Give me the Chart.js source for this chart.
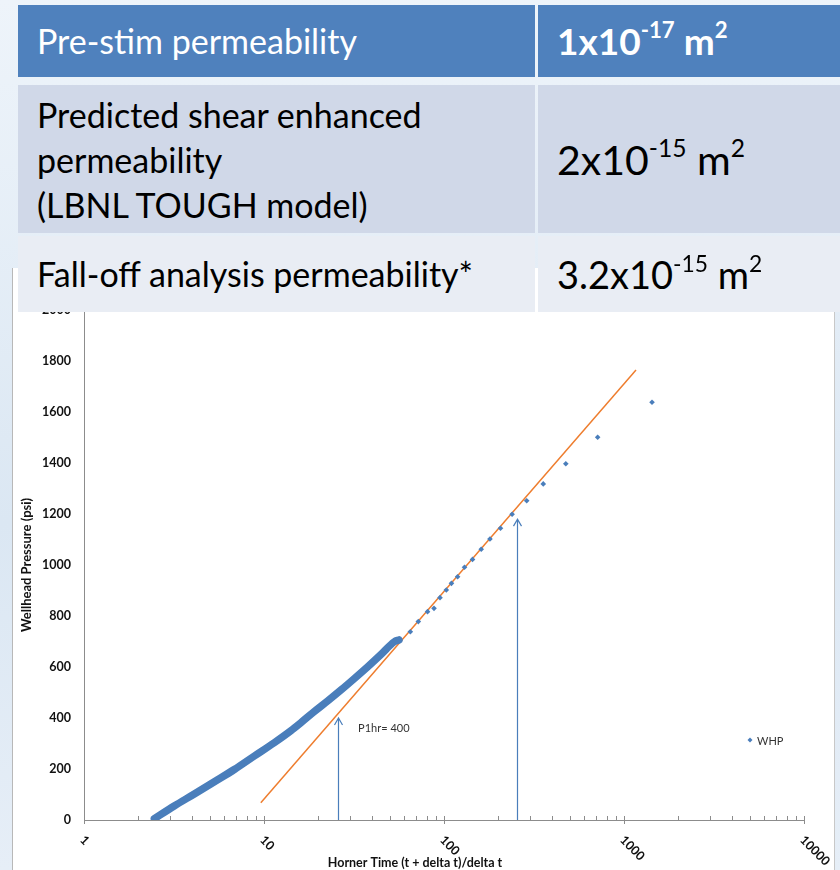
<!DOCTYPE html>
<html>
<head>
<meta charset="utf-8">
<script src="https://cdn.jsdelivr.net/npm/chart.js@4.4.1/dist/chart.umd.min.js"></script>
<style>
  body { margin: 0; width: 840px; height: 870px; overflow: hidden; position: relative;
         background: linear-gradient(180deg, #eef4fa 0%, #dbe7f3 60%, #e6eef7 100%); font-family: Lato, sans-serif; }
  #sheet { position: absolute; left: 12px; top: 268px; width: 821px; height: 602px; background: #fff;
           border-left: 1px solid #b8b8b8; border-right: 1px solid #c8c8c8; }
  #chart { position: absolute; left: 0; top: 2px; }
  .cell { position: absolute; box-sizing: border-box; white-space: nowrap; }
  .l { left: 18px; width: 517px; padding-left: 19px; font-size: 34px; }
  .r { left: 538px; width: 302px; padding-left: 19px; }
  .h { top: 5px; height: 72px; background: #4f81bd; color: #fff; line-height: 72px; }
  .m { top: 85px; height: 148px; background: #d0d8e8; color: #000; }
  .b { top: 236px; height: 76px; background: #e9edf4; color: #000; line-height: 76px; }
  sup { font-size: 0.6em; vertical-align: 0; position: relative; top: -0.75em; }
</style>
</head>
<body>
<div id="sheet"><canvas id="chart" width="820" height="600"></canvas></div>

<div class="cell l h">Pre-stim permeability</div>
<div class="cell r h" style="font-weight:bold;font-size:37px">1x10<sup>-17</sup> m<sup>2</sup></div>
<div class="cell l m" style="line-height:45px;padding-top:7px">Predicted shear enhanced<br>permeability<br>(LBNL TOUGH model)</div>
<div class="cell r m" style="font-size:41px;line-height:150px">2x10<sup>-15</sup> m<sup>2</sup></div>
<div class="cell l b">Fall-off analysis permeability*</div>
<div class="cell r b" style="font-size:38px">3.2x10<sup>-15</sup> m<sup>2</sup></div>

<script>
// early build-up, drawn as a thick band of overlapping markers
const whpDenseX = [2.46, 3.17, 4.10, 5.30, 6.84, 8.84, 11.4, 14.1, 16.0, 19.0, 22.6, 26.8, 31.8, 37.7, 44.8, 53, 56.2];
const whpDenseP = [5, 55, 102, 150, 198, 251, 303, 350, 381, 425, 467, 510, 555, 601, 650, 699, 706];
// later readings, single markers
const whpX = [65, 72, 81, 88, 95, 103, 110, 119, 130, 144, 161, 180, 206, 239, 288, 356, 475, 714, 1431];
const whpP = [738, 778, 817, 830, 872, 902, 928, 954, 991, 1022, 1062, 1102, 1144, 1199, 1252, 1318, 1397, 1501, 1638];
// straight-line fit
const fitX = [9.6, 1166];
const fitP = [68, 1765];
// vertical arrows
const arrowX = [25.8, 253];
const arrowP = [400, 1180];
const arrowLabel = 'P1hr= 400';
const xTickLabels = ['1', '10', '100', '1000', '10000'];
const yMin = 0, yMax = 2000, yStep = 200;

const blue = '#4a7ebb';
const orange = '#ee7d2e';
const axisGrey = '#8c8c8c';
const labelFont = 'bold 12.5px Lato';

const toPts = (xs, ys) => xs.map((x, i) => ({ x: x, y: ys[i] }));

const extras = {
  id: 'extras',
  afterDatasetsDraw(chart) {
    const ctx = chart.ctx;
    const xs = chart.scales.x, ys = chart.scales.y;
    ctx.save();
    // arrows
    ctx.strokeStyle = blue;
    ctx.lineWidth = 1.2;
    arrowX.forEach((v, i) => {
      const px = Math.round(xs.getPixelForValue(v)) + 0.5;
      const y0 = ys.getPixelForValue(0);
      const y1 = ys.getPixelForValue(arrowP[i]);
      ctx.beginPath();
      ctx.moveTo(px, y0);
      ctx.lineTo(px, y1);
      ctx.moveTo(px - 4, y1 + 7);
      ctx.lineTo(px, y1);
      ctx.lineTo(px + 4, y1 + 7);
      ctx.stroke();
    });
    ctx.fillStyle = '#333';
    ctx.font = '11px Lato';
    ctx.textBaseline = 'middle';
    ctx.textAlign = 'left';
    ctx.fillText(arrowLabel, xs.getPixelForValue(arrowX[0]) + 20, ys.getPixelForValue(arrowP[0]) + 10);

    // legend
    const lx = chart.chartArea.right - 54, ly = chart.chartArea.bottom - 80;
    ctx.fillStyle = blue;
    ctx.beginPath();
    ctx.moveTo(lx, ly - 2.5); ctx.lineTo(lx + 2.5, ly); ctx.lineTo(lx, ly + 2.5); ctx.lineTo(lx - 2.5, ly);
    ctx.closePath();
    ctx.fill();
    ctx.fillStyle = '#333';
    ctx.fillText('WHP', lx + 7, ly + 1);
    ctx.restore();
  },
  afterDraw(chart) {
    const ctx = chart.ctx;
    const xs = chart.scales.x;
    const yb = chart.chartArea.bottom;
    ctx.save();
    ctx.strokeStyle = axisGrey;
    ctx.lineWidth = 1;
    // major + minor ticks on the log axis
    for (let d = 0; d < xTickLabels.length; d++) {
      const base = Math.pow(10, d);
      const mx = Math.round(xs.getPixelForValue(base)) + 0.5;
      ctx.beginPath(); ctx.moveTo(mx, yb - 4); ctx.lineTo(mx, yb + 4); ctx.stroke();
      if (d === xTickLabels.length - 1) break;
      for (let m = 2; m < 10; m++) {
        const px = Math.round(xs.getPixelForValue(base * m)) + 0.5;
        ctx.beginPath(); ctx.moveTo(px, yb - 4); ctx.lineTo(px, yb); ctx.stroke();
      }
    }
    // rotated tick labels
    ctx.fillStyle = '#111';
    ctx.font = labelFont;
    ctx.textAlign = 'left';
    ctx.textBaseline = 'middle';
    xTickLabels.forEach((t, d) => {
      const px = xs.getPixelForValue(Math.pow(10, d));
      ctx.save();
      ctx.translate(px - 2, yb + 18);
      ctx.rotate(Math.PI / 4);
      ctx.fillText(t, 0, 0);
      ctx.restore();
    });
    // x title
    ctx.textAlign = 'center';
    ctx.fillText('Horner Time (t + delta t)/delta t', 402, yb + 43);
    ctx.restore();
  }
};

new Chart(document.getElementById('chart'), {
  type: 'scatter',
  data: {
    datasets: [
      {
        label: 'WHP',
        data: toPts(whpDenseX, whpDenseP),
        showLine: true,
        cubicInterpolationMode: 'monotone',
        borderColor: blue,
        borderWidth: 7.5,
        borderCapStyle: 'round',
        pointRadius: 0
      },
      {
        label: 'WHP',
        data: toPts(whpX, whpP),
        pointStyle: 'rectRot',
        pointRadius: 2.8,
        backgroundColor: blue,
        borderWidth: 0
      },
      {
        label: 'fit',
        data: toPts(fitX, fitP),
        showLine: true,
        borderColor: orange,
        borderWidth: 1.5,
        pointRadius: 0
      }
    ]
  },
  options: {
    responsive: false,
    animation: false,
    devicePixelRatio: 1,
    layout: { padding: { top: 40, right: 29, left: 0, bottom: 0 } },
    plugins: { legend: { display: false }, tooltip: { enabled: false } },
    scales: {
      x: {
        type: 'logarithmic',
        min: 1,
        max: 10000,
        grid: { display: false },
        border: { color: axisGrey, width: 1 },
        ticks: { display: false },
        afterFit(scale) { scale.height = 50; }
      },
      y: {
        min: yMin,
        max: yMax,
        grid: { display: false, drawTicks: false },
        border: { color: axisGrey, width: 1 },
        ticks: {
          stepSize: yStep,
          padding: 13,
          color: '#111',
          font: { family: 'Lato', size: 12.5, weight: 'bold' },
          callback: (v) => String(v)
        },
        title: {
          display: true,
          text: 'Wellhead Pressure (psi)',
          color: '#111',
          font: { family: 'Lato', size: 13, weight: 'bold' },
          padding: { top: 6, bottom: 0 }
        },
        afterFit(scale) { scale.width = 71; }
      }
    }
  },
  plugins: [extras]
});
</script>
</body>
</html>
